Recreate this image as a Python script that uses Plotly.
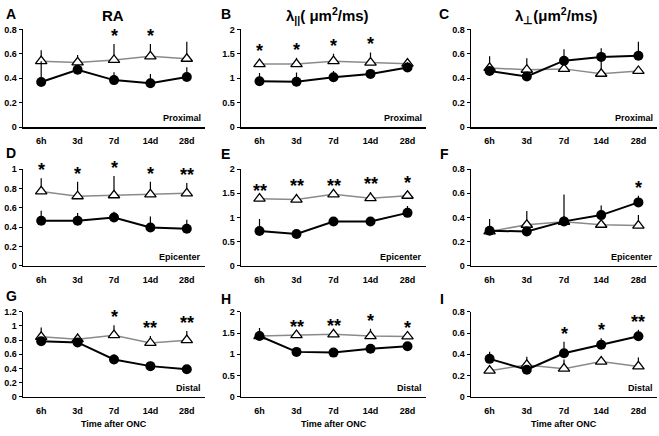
import plotly.graph_objects as go

W, H = 659, 436
times = ["6h", "3d", "7d", "14d", "28d"]

# ---- data (means and upper error-bar tops) ----
A_tri = [0.54, 0.53, 0.55, 0.58, 0.56]
A_tri_top = [0.63, 0.59, 0.68, 0.68, 0.70]
A_cir = [0.37, 0.47, 0.385, 0.36, 0.41]
A_cir_top = [0.54, 0.47, 0.45, 0.435, 0.49]
A_sig = ["", "", "*", "*", ""]

B_tri = [1.29, 1.29, 1.35, 1.32, 1.30]
B_tri_top = [1.40, 1.42, 1.50, 1.53, 1.40]
B_cir = [0.94, 0.93, 1.02, 1.09, 1.22]
B_cir_top = [1.11, 1.12, 1.15, 1.09, 1.33]
B_sig = ["*", "*", "*", "*", ""]

C_tri = [0.485, 0.47, 0.477, 0.437, 0.46]
C_tri_top = [0.58, 0.565, 0.477, 0.58, 0.46]
C_cir = [0.46, 0.415, 0.544, 0.575, 0.585]
C_cir_top = [0.46, 0.415, 0.637, 0.645, 0.70]
C_sig = ["", "", "", "", ""]

D_tri = [0.77, 0.72, 0.73, 0.74, 0.75]
D_tri_top = [0.906, 0.87, 0.93, 0.87, 0.857]
D_cir = [0.467, 0.467, 0.50, 0.397, 0.383]
D_cir_top = [0.57, 0.547, 0.56, 0.51, 0.477]
D_sig = ["*", "*", "*", "*", "**"]

E_tri = [1.39, 1.37, 1.48, 1.40, 1.45]
E_tri_top = [1.39, 1.49, 1.48, 1.53, 1.55]
E_cir = [0.72, 0.66, 0.917, 0.917, 1.096]
E_cir_top = [0.97, 0.66, 0.98, 0.917, 1.24]
E_sig = ["**", "**", "**", "**", "*"]

F_tri = [0.285, 0.34, 0.365, 0.34, 0.333]
F_tri_top = [0.285, 0.453, 0.365, 0.34, 0.42]
F_cir = [0.29, 0.285, 0.368, 0.42, 0.525]
F_cir_top = [0.387, 0.285, 0.59, 0.50, 0.58]
F_sig = ["", "", "", "", "*"]

G_tri = [0.847, 0.814, 0.87, 0.76, 0.80]
G_tri_top = [0.98, 0.894, 1.01, 0.86, 0.93]
G_cir = [0.786, 0.767, 0.527, 0.433, 0.39]
G_cir_top = [0.786, 0.767, 0.60, 0.50, 0.39]
G_sig = ["", "", "*", "**", "**"]

H_tri = [1.43, 1.45, 1.47, 1.43, 1.42]
H_tri_top = [1.62, 1.45, 1.47, 1.60, 1.42]
H_cir = [1.43, 1.057, 1.04, 1.13, 1.19]
H_cir_top = [1.43, 1.057, 1.04, 1.13, 1.19]
H_sig = ["", "**", "**", "*", "*"]

I_tri = [0.246, 0.30, 0.265, 0.332, 0.286]
I_tri_top = [0.246, 0.378, 0.35, 0.38, 0.37]
I_cir = [0.357, 0.255, 0.41, 0.49, 0.57]
I_cir_top = [0.425, 0.255, 0.517, 0.55, 0.63]
I_sig = ["", "", "*", "*", "**"]

y_max = {"A": 0.8, "B": 2, "C": 0.8, "D": 1, "E": 2, "F": 0.8, "G": 1.2, "H": 2, "I": 0.8}
y_dtick = {"A": 0.2, "B": 0.5, "C": 0.2, "D": 0.2, "E": 0.5, "F": 0.2, "G": 0.2, "H": 0.5, "I": 0.2}
regions = ["Proximal", "Epicenter", "Distal"]
col_titles = ["RA", "λ<sub>||</sub>( μm<sup>2</sup>/ms)", "λ<sub>⊥</sub>(μm<sup>2</sup>/ms)"]

panels = {
    "A": (A_tri, A_tri_top, A_cir, A_cir_top, A_sig),
    "B": (B_tri, B_tri_top, B_cir, B_cir_top, B_sig),
    "C": (C_tri, C_tri_top, C_cir, C_cir_top, C_sig),
    "D": (D_tri, D_tri_top, D_cir, D_cir_top, D_sig),
    "E": (E_tri, E_tri_top, E_cir, E_cir_top, E_sig),
    "F": (F_tri, F_tri_top, F_cir, F_cir_top, F_sig),
    "G": (G_tri, G_tri_top, G_cir, G_cir_top, G_sig),
    "H": (H_tri, H_tri_top, H_cir, H_cir_top, H_sig),
    "I": (I_tri, I_tri_top, I_cir, I_cir_top, I_sig),
}

# pixel layout
col_x = [(23, 205), (241, 426), (471, 657)]
row_y = [(25, 125), (168, 267), (314, 401)]
letter_pos = {"A": (4, 9), "B": (219, 9), "C": (437, 9),
              "D": (4, 151), "E": (219, 153), "F": (438, 153),
              "G": (4, 298), "H": (219, 301), "I": (438, 301)}

FONT = "Arial, Liberation Sans, sans-serif"
fig = go.Figure()
annotations = []

def fx(px):
    return px / W

def fy(py):
    return 1 - py / H

for idx, key in enumerate("ABCDEFGHI"):
    r, c = divmod(idx, 3)
    n = idx + 1
    xa = "x" if n == 1 else f"x{n}"
    ya = "y" if n == 1 else f"y{n}"
    tri, tri_top, cir, cir_top, sig = panels[key]
    tri_err = [t - v for t, v in zip(tri_top, tri)]
    cir_err = [t - v for t, v in zip(cir_top, cir)]

    fig.add_trace(go.Scatter(
        x=times, y=tri, xaxis=xa, yaxis=ya, mode="lines+markers",
        line=dict(color="#8a8a8a", width=1.5),
        marker=dict(symbol="triangle-up", size=10, color="white",
                    line=dict(color="black", width=1.3)),
        error_y=dict(type="data", symmetric=False, array=tri_err,
                     arrayminus=[0] * 5, color="black", thickness=1.2, width=0),
        showlegend=False, cliponaxis=False, hoverinfo="skip"))
    fig.add_trace(go.Scatter(
        x=times, y=cir, xaxis=xa, yaxis=ya, mode="lines+markers",
        line=dict(color="black", width=2),
        marker=dict(symbol="circle", size=10, color="black"),
        error_y=dict(type="data", symmetric=False, array=cir_err,
                     arrayminus=[0] * 5, color="black", thickness=1.2, width=0),
        showlegend=False, cliponaxis=False, hoverinfo="skip"))

    x0, x1 = col_x[c]
    y0, y1 = row_y[r]
    axis_x = dict(domain=[fx(x0), fx(x1)], anchor=ya, type="category",
                  range=[-0.5, 4.5], showline=True, linecolor="black", linewidth=1.5,
                  showgrid=False, zeroline=False, ticks="outside", ticklen=5,
                  tickcolor="rgba(0,0,0,0)",
                  tickfont=dict(family=FONT, size=9, color="black", weight="bold"))
    axis_y = dict(domain=[fy(y1), fy(y0)], anchor=xa, range=[0, y_max[key]],
                  dtick=y_dtick[key], tick0=0, showline=True, linecolor="black",
                  linewidth=1.5, showgrid=False, zeroline=False, ticks="outside",
                  ticklen=3, tickcolor="black",
                  tickfont=dict(family=FONT, size=9, color="black", weight="bold"))
    fig.update_layout(**{("xaxis" if n == 1 else f"xaxis{n}"): axis_x,
                         ("yaxis" if n == 1 else f"yaxis{n}"): axis_y})

    # significance stars
    for t, s, a, b in zip(times, sig, tri_top, cir_top):
        if s:
            annotations.append(dict(x=t, y=max(a, b), xref=xa, yref=ya, text=f"<b>{s}</b>",
                                    showarrow=False, yanchor="bottom", yshift=-4,
                                    font=dict(family=FONT, size=18, color="black")))
    # region label
    annotations.append(dict(x=fx(x1) - 0.003, y=fy(y1) + 0.004, xref="paper", yref="paper",
                            text=f"<b>{regions[r]}</b>", showarrow=False,
                            xanchor="right", yanchor="bottom",
                            font=dict(family=FONT, size=9, color="black")))
    # panel letter
    lx, ly = letter_pos[key]
    annotations.append(dict(x=fx(lx), y=fy(ly), xref="paper", yref="paper",
                            text=f"<b>{key}</b>", showarrow=False,
                            xanchor="left", yanchor="middle",
                            font=dict(family=FONT, size=14, color="black")))

# column titles
title_cx = [113, 327, 556]
for cx, t in zip(title_cx, col_titles):
    annotations.append(dict(x=fx(cx), y=fy(11), xref="paper", yref="paper",
                            text=f"<b>{t}</b>", showarrow=False,
                            xanchor="center", yanchor="middle",
                            font=dict(family=FONT, size=15, color="black")))
# x-axis titles
for c in range(3):
    x0, x1 = col_x[c]
    annotations.append(dict(x=fx((x0 + x1) / 2), y=fy(429), xref="paper", yref="paper",
                            text="<b>Time after ONC</b>", showarrow=False,
                            xanchor="center", yanchor="middle",
                            font=dict(family=FONT, size=9, color="black")))

fig.update_layout(width=W, height=H, margin=dict(l=0, r=0, t=0, b=0),
                  paper_bgcolor="white", plot_bgcolor="white",
                  annotations=annotations, showlegend=False, hovermode=False)
fig.write_html("out.html", config={"displayModeBar": False, "staticPlot": True},
               post_script="document.body.style.margin='0';document.body.style.padding='0';document.body.style.overflow='hidden';")
